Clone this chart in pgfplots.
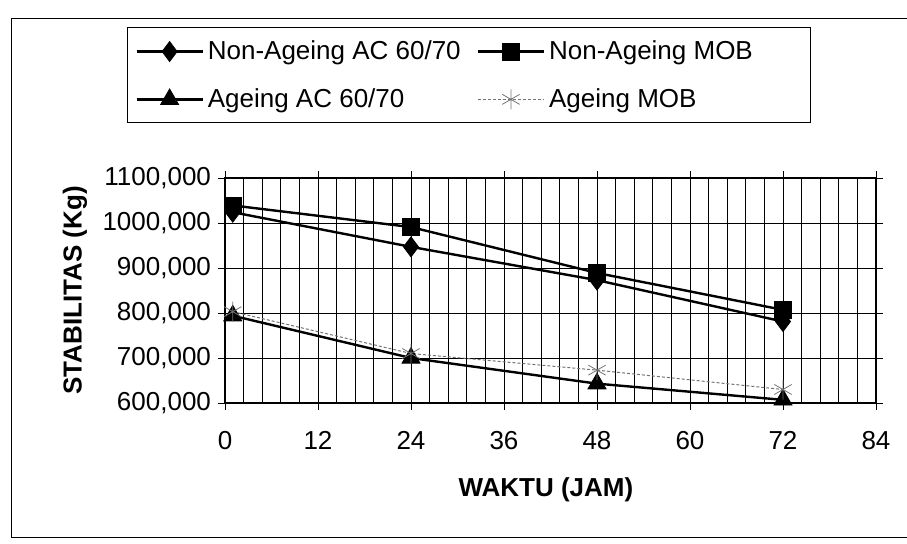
\documentclass[border=0pt]{standalone}
\usepackage{pgfplots}
\pgfplotsset{compat=1.18}
\usepackage{fontspec}
\setmainfont{Liberation Sans}
\begin{document}
\begin{tikzpicture}
\useasboundingbox (0,0) rectangle (453.5bp,272bp);
% outer chart frame
\draw[line width=0.5bp] (453.5bp,262.5bp) -- (5.5bp,262.5bp) -- (5.5bp,3bp) -- (453.5bp,3bp);
% legend frame
\draw[line width=0.5bp] (63.5bp,210.5bp) rectangle (405bp,258bp);
\begin{axis}[
  at={(112.5bp,70.5bp)}, anchor=south west,
  width=325.5bp, height=112.5bp, scale only axis,
  xmin=0, xmax=84, ymin=600, ymax=1100,
  xtick={0,12,...,84}, minor x tick num=4,
  ytick={600,700,...,1100},
  yticklabels={{600,000},{700,000},{800,000},{900,000},{1000,000},{1100,000}},
  xmajorgrids, xminorgrids, ymajorgrids,
  grid style={black, line width=0.45bp},
  minor grid style={black, line width=0.45bp},
  axis line style={black, line width=0.6bp},
  tick align=outside, major tick length=3.5bp, minor tick length=0bp,
  tick style={black, line width=0.45bp},
  tick label style={font=\fontsize{13bp}{15bp}\selectfont},
  /pgf/number format/assume math mode=true,
  xticklabel style={yshift=-7bp},
  xlabel={WAKTU (JAM)}, ylabel={STABILITAS (Kg)},
  label style={font=\fontsize{13bp}{15bp}\selectfont\bfseries},
  xlabel style={at={(axis description cs:0.493,-0.387)}, anchor=center},
  ylabel style={at={(axis description cs:-0.2304,0.5)}, anchor=center},
  clip=false,
  legend columns=2,
  legend style={draw=none, fill=none, inner sep=0pt,
    at={(axis description cs:-0.1382,1.63)}, anchor=north west,
    font=\fontsize{13bp}{15bp}\selectfont,
    /tikz/every even column/.append style={column sep=6bp},
    row sep=9bp},
  legend cell align=left,
  legend image code/.code={\draw[mark repeat=2,mark phase=2] plot coordinates {(0bp,0bp) (16.5bp,0bp) (33bp,0bp)};},
]
\addplot[black, line width=1.2bp, mark=diamond*, mark size=5bp, mark options={solid, line width=0.4bp}]
  coordinates {(1,1024) (24,947) (48,873) (72,781)};
\addlegendentry{Non-Ageing AC 60/70}
\addplot[black, line width=1.2bp, mark=square*, mark size=4.2bp, mark options={solid, line width=0.4bp}]
  coordinates {(1,1039) (24,991) (48,889) (72,807)};
\addlegendentry{Non-Ageing MOB}
\addplot[black, line width=1.2bp, mark=triangle*, mark size=5.2bp, mark options={solid, line width=0.4bp}]
  coordinates {(1,794) (24,700) (48,643) (72,607)};
\addlegendentry{Ageing AC 60/70}
\addplot[black!55, line width=0.5bp, dash pattern=on 1.5bp off 1bp, mark=asterisk, mark size=5bp, mark options={solid, line width=0.4bp}]
  coordinates {(1,803) (24,710) (48,673) (72,630)};
\addlegendentry{Ageing MOB}
\end{axis}
\end{tikzpicture}
\end{document}
